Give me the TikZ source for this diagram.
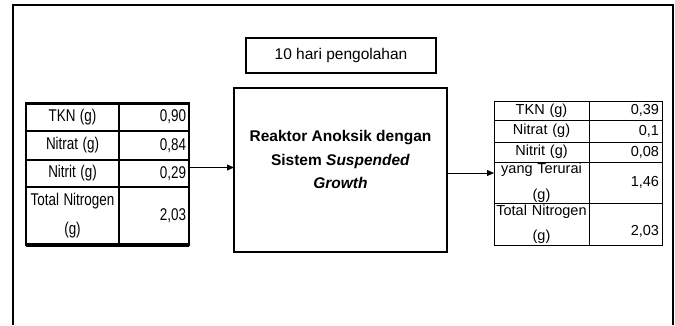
\documentclass[tikz,border=0pt]{standalone}
\usepackage{fontspec}
\setmainfont{Liberation Sans}
\usepackage{graphicx}
\newcommand\cond[1]{\scalebox{0.79}[1]{#1}}
\usetikzlibrary{positioning}
\usetikzlibrary{arrows.meta}

\begin{document}
\begin{tikzpicture}[x=1pt, y=-1pt,
  cell/.style={draw, outer sep=0pt, inner xsep=3pt, inner ysep=0pt},
  lcell/.style={cell, line width=1.6pt, minimum height=#1,
    font=\fontsize{17}{29}\selectfont},
  rcell/.style={cell, line width=1pt, minimum height=#1,
    font=\fontsize{14.5}{25.5}\selectfont},
  lname/.style={lcell=#1, text width=87pt, align=center},
  lval/.style={lcell=#1, text width=64pt, align=right},
  rname/.style={rcell=#1, inner xsep=0.5pt, text width=94pt, align=center},
  rval/.style={rcell=#1, text width=67pt, align=right},
  box/.style={draw, line width=1.2pt, outer sep=0pt},
  arr/.style={-{Triangle[length=7pt,width=6pt]}, line width=1pt},
  node distance=0pt
]
\useasboundingbox (0,0) rectangle (675,325);
\draw[line width=2pt] (13,325) -- (13,5) -- (673,5) -- (673,325);

\node[box, minimum width=190pt, minimum height=35pt, font=\fontsize{15.5}{18}\selectfont]
  (days) at (341,55.5) {10 hari pengolahan};
\node[box, minimum width=213pt, minimum height=164pt] (reactor) at (340.5,170) {};
\node[align=center, font=\bfseries\fontsize{15.5}{23.5}\selectfont] (rlabel)
  at ([yshift=10.5pt]reactor.center)
  {Reaktor Anoksik dengan\\ Sistem \textit{Suspended}\\ \textit{Growth}};

\node[lname=28pt, anchor=north west] (tkn1) at (26,103) {\cond{TKN (g)}};
\node[lname=29pt, below=of tkn1] (nat1) {\cond{Nitrat (g)}};
\node[lname=27pt, below=of nat1] (nit1) {\cond{Nitrit (g)}};
\node[lname=58pt, below=of nit1] (tot1) {\cond{Total Nitrogen}\\ \cond{(g)}};
\node[lval=28pt, right=of tkn1] (tknv1) {\cond{0,90}};
\node[lval=29pt, right=of nat1] (natv1) {\cond{0,84}};
\node[lval=27pt, right=of nit1] (nitv1) {\cond{0,29}};
\node[lval=58pt, right=of tot1] (totv1) {\cond{2,03}};
\draw[line width=3pt] (tkn1.north west) -- (tknv1.north east);
\draw[line width=3.5pt] (tot1.south west) -- (totv1.south east);

\node[rname=19pt, anchor=north west] (tkn2) at (494,101) {TKN (g)};
\node[rname=22pt, below=of tkn2] (nat2) {Nitrat (g)};
\node[rname=20pt, below=of nat2] (nit2) {Nitrit (g)};
\node[rname=41pt, below=of nit2] (tru2) {yang Terurai\\ (g)};
\node[rname=42pt, below=of tru2] (tot2) {\mbox{Total Nitrogen}\\ (g)};
\node[rval=19pt, right=of tkn2] (tknv2) {0,39};
\node[rval=22pt, right=of nat2] (natv2) {0,1};
\node[rval=20pt, right=of nit2] (nitv2) {0,08};
\node[rval=41pt, right=of tru2] (truv2) {1,46};
\node[rval=42pt, right=of tot2] (totv2) {\mbox{}\\ 2,03};

\draw[arr] ([yshift=6pt]nitv1.east) -- ([yshift=6pt]reactor.west |- nitv1.east);
\draw[arr] ([yshift=-3pt]reactor.east) -- ([yshift=-3pt]reactor.east -| tru2.west);
\end{tikzpicture}
\end{document}
